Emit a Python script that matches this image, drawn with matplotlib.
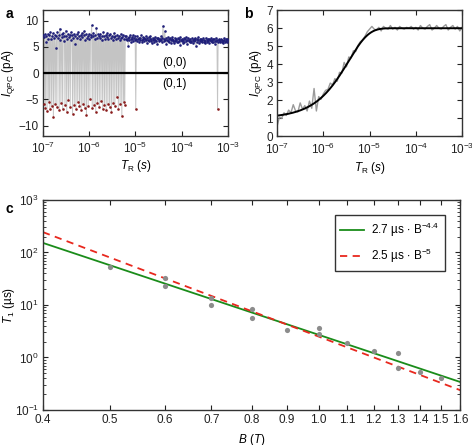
import numpy as np
import matplotlib
matplotlib.use("Agg")
import matplotlib.pyplot as plt
from matplotlib.ticker import FixedLocator, NullLocator, LogLocator, NullFormatter

plt.rcParams['font.family'] = ['Liberation Sans', 'DejaVu Sans']
plt.rcParams['mathtext.fontset'] = 'custom'
plt.rcParams['mathtext.rm'] = 'Liberation Sans'
plt.rcParams['mathtext.it'] = 'Liberation Sans:italic'
plt.rcParams['font.size'] = 8.5

# ---- panel a: single-shot readout vs T_R ----
shot_logT = np.linspace(-7, -3, 320)
shot_current = [
    7.3, -5.8, 6.9, 7.4, -6.6, 5.9, 7.0, -7.2, 7.5, 6.6, -5.4, 7.2, -6.9, 7.8, 6.5, -6.2,
    7.1, 7.6, -8.3, 6.8, 7.3, -5.9, 4.8, 7.0, -6.4, 7.9, 6.7, 7.2, -7.0, 8.5, 6.4, -5.6,
    7.4, 6.9, -6.8, 7.7, 6.2, 7.1, -6.1, 8.1, 7.0, -7.4, 6.6, 7.5, -5.2, 6.9, 7.3, -6.5,
    7.8, 6.4, 7.2, -7.7, 6.8, 7.5, -6.0, 7.1, 5.6, -6.9, 7.4, 6.7, -5.5, 7.9, 7.0, -6.3,
    6.5, 7.3, -7.1, 7.6, 6.9, -5.8, 7.2, 8.0, -6.6, 6.3, 7.4, -7.9, 6.8, 7.1, -6.2, 7.5,
    6.6, -5.0, 7.3, 6.9, 9.1, -6.7, 7.0, 7.7, -6.0, 6.5, 7.2, -7.3, 8.7, 6.8, -5.7, 7.4,
    7.0, -6.4, 6.7, 7.5, -5.3, 7.1, 6.4, -6.8, 7.8, 7.0, -6.1, 6.6, 7.3, -7.0, 6.9, 7.6,
    -5.9, 6.5, 7.2, -6.5, 7.4, 6.8, -7.4, 7.1, 6.3, -5.6, 7.6, 6.9, -6.3, 7.0, 6.6, -4.6,
    7.3, 6.8, -6.8, 7.1, 6.4, -5.9, 7.5, 6.7, -8.2, 6.9, 7.2, -5.5, 6.6, -6.1, 7.0, 6.5,
    7.1, 6.3, 6.8, 5.1, 6.9, 6.4, 7.2, 6.6, 6.0, 6.9, 6.5, 7.3, 6.2, 6.8, 6.4, 7.0,
    -6.9, 6.6, 6.1, 7.0, 6.5, 6.8, 5.9, 6.7, 6.3, 7.2, 6.4, 6.0, 6.9, 6.5, 6.2, 6.8,
    6.6, 7.1, 6.3, 5.8, 6.7, 6.4, 6.9, 6.1, 6.6, 7.0, 6.2, 6.5, 5.7, 6.8, 6.3, 6.6,
    6.0, 6.9, 6.4, 6.2, 6.7, 5.5, 6.5, 6.8, 6.1, 6.6, 6.3, 7.0, 6.4, 5.9, 6.7, 9.0,
    6.2, 6.5, 8.0, 6.3, 6.8, 5.6, 6.4, 6.9, 6.1, 6.6, 6.0, 6.7, 6.3, 5.8, 6.5, 6.9,
    6.2, 6.4, 5.7, 6.8, 6.1, 6.6, 6.3, 5.9, 6.7, 6.0, 6.5, 6.2, 6.9, 5.4, 6.4, 6.1,
    6.6, 6.3, 5.8, 6.7, 6.0, 6.5, 6.9, 6.2, 5.6, 6.4, 6.8, 6.1, 6.3, 5.9, 6.6, 6.2,
    6.0, 6.7, 6.4, 5.7, 6.5, 6.1, 6.8, 6.3, 5.2, 6.6, 6.0, 6.4, 6.9, 5.8, 6.2, 6.5,
    6.1, 6.6, 6.3, 5.9, 6.7, 6.0, 6.4, 6.2, 5.7, 6.8, 6.3, 6.0, 6.5, 6.1, 6.6, 5.8,
    6.4, 6.2, 6.7, 5.9, 6.3, 6.0, 6.5, 6.6, 5.6, 6.2, 6.8, 6.1, 6.4, -6.9, 6.0, 6.3,
    6.5, 5.9, 6.2, 6.6, 6.0, 6.4, 6.1, 5.8, 6.7, 6.3, 6.0, 6.5, 6.2, 5.9, 6.6, 6.3,
]

# ---- panel b: averaged current vs T_R ----
avg_logT = np.linspace(-7, -3, 81)
avg_current = [
    0.55, 1.05, 1.00, 1.30, 1.15, 1.45, 1.30, 1.75, 1.40, 1.35, 1.85, 1.50, 1.70, 1.40,
    1.95, 1.55, 2.65, 1.40, 2.20, 2.05, 2.35, 2.55, 2.60, 2.95, 2.85, 3.20, 3.05, 3.55,
    3.50, 4.10, 3.85, 4.40, 4.35, 4.75, 4.70, 5.05, 5.25, 5.35, 5.55, 5.80, 5.95, 6.10,
    5.95, 5.90, 6.05, 5.85, 6.10, 6.00, 5.95, 6.15, 5.95, 6.05, 5.90, 6.10, 6.00, 5.95,
    6.05, 6.00, 6.10, 5.95, 6.05, 5.90, 6.15, 6.00, 5.95, 6.10, 6.20, 5.90, 6.00, 6.15,
    6.00, 5.95, 6.10, 6.20, 5.90, 6.05, 6.15, 5.95, 6.10, 5.85, 6.05,
]
fit_I0 = 1.0      # pA
fit_Isat = 6.0    # pA
fit_T1 = 3.5e-6   # s

# ---- panel c: T1 vs B ----
B_field = [0.5, 0.6, 0.6, 0.7, 0.7, 0.8, 0.8, 0.9, 1.0, 1.0, 1.1, 1.2, 1.3, 1.3, 1.4, 1.5]
T1_us = [52, 33, 23.5, 13.4, 10, 8.4, 5.6, 3.4, 3.6, 2.85, 1.86, 1.3, 1.23, 0.63, 0.52, 0.40]
fit_green = (2.7, -4.4)
fit_red = (2.5, -5.0)


def style_axes(ax):
    ax.tick_params(which='both', direction='in', top=True, right=True, colors='#222222',
                   labelcolor='#222222', pad=3)
    ax.tick_params(which='major', length=3.5, width=0.8)
    ax.tick_params(which='minor', length=2, width=0.6)
    for s in ax.spines.values():
        s.set_color('#333333')
        s.set_linewidth(1.0)


fig = plt.figure(figsize=(4.72, 4.45), dpi=100)

# panel a
ax_a = fig.add_axes([0.091, 0.694, 0.392, 0.283])
tshot = 10.0 ** shot_logT
cur = np.array(shot_current)
ax_a.plot(tshot, cur, color='#c4c4c4', lw=0.7, zorder=1)
pos = cur > 0
ax_a.scatter(tshot[pos], cur[pos], s=3.5, color='#1f1f7a', linewidths=0, zorder=3)
ax_a.scatter(tshot[~pos], cur[~pos], s=3.5, color='#8a1c1c', linewidths=0, zorder=3)
ax_a.axhline(0, color='black', lw=1.6, zorder=4)
ax_a.text(10 ** -4.15, 1.9, '(0,0)', ha='center', va='center', fontsize=8.5)
ax_a.text(10 ** -4.15, -2.1, '(0,1)', ha='center', va='center', fontsize=8.5)
ax_a.set_xscale('log')
ax_a.set_xlim(1e-7, 1e-3)
ax_a.set_ylim(-12, 12)
ax_a.set_yticks([-10, -5, 0, 5, 10])
ax_a.xaxis.set_major_locator(FixedLocator([1e-7, 1e-6, 1e-5, 1e-4, 1e-3]))
ax_a.xaxis.set_minor_locator(NullLocator())
ax_a.set_xlabel(r'$T_{\rm R}$ $(s)$', labelpad=2)
ax_a.set_ylabel(r'$I_{\rm QPC}$ (pA)', labelpad=1)
style_axes(ax_a)

# panel b
ax_b = fig.add_axes([0.587, 0.694, 0.392, 0.283])
tavg = 10.0 ** avg_logT
ax_b.plot(tavg, avg_current, color='#9a9a9a', lw=1.0)
tfit = np.logspace(-7, -3, 400)
ifit = fit_Isat - (fit_Isat - fit_I0) * np.exp(-tfit / fit_T1)
ax_b.plot(tfit, ifit, color='black', lw=1.4)
ax_b.set_xscale('log')
ax_b.set_xlim(1e-7, 1e-3)
ax_b.set_ylim(0, 7)
ax_b.set_yticks(range(8))
ax_b.xaxis.set_major_locator(FixedLocator([1e-7, 1e-6, 1e-5, 1e-4, 1e-3]))
ax_b.xaxis.set_minor_locator(NullLocator())
ax_b.set_xlabel(r'$T_{\rm R}$ $(s)$', labelpad=2)
ax_b.set_ylabel(r'$I_{\rm QPC}$ (pA)', labelpad=1)
style_axes(ax_b)
ax_b.tick_params(axis='x', pad=4)

# panel c
ax_c = fig.add_axes([0.091, 0.0787, 0.884, 0.4719])
ax_c.scatter(B_field, T1_us, s=14, color='#8c8c8c', linewidths=0, zorder=3)
bb = np.linspace(0.4, 1.6, 200)
ax_c.plot(bb, fit_green[0] * bb ** fit_green[1], color='#1a8c1a', lw=1.3,
          label=r'2.7 µs $\cdot$ B$^{-4.4}$', zorder=2)
ax_c.plot(bb, fit_red[0] * bb ** fit_red[1], color='#e8281e', lw=1.3, ls=(0, (4, 3)),
          label=r'2.5 µs $\cdot$ B$^{-5}$', zorder=2)
ax_c.set_xscale('log')
ax_c.set_yscale('log')
ax_c.set_xlim(0.4, 1.6)
ax_c.set_ylim(0.1, 1000)
bticks = [0.4, 0.5, 0.6, 0.7, 0.8, 0.9, 1.0, 1.1, 1.2, 1.3, 1.4, 1.5, 1.6]
ax_c.xaxis.set_major_locator(FixedLocator(bticks))
ax_c.xaxis.set_minor_locator(NullLocator())
ax_c.set_xticklabels([f'{b:.1f}' for b in bticks])
ax_c.yaxis.set_major_locator(LogLocator(base=10, numticks=10))
ax_c.yaxis.set_minor_locator(LogLocator(base=10, subs=np.arange(2, 10), numticks=10))
ax_c.yaxis.set_minor_formatter(NullFormatter())
ax_c.set_xlabel(r'$B$ $(T)$', labelpad=4)
ax_c.set_ylabel(r'$T_1$ (µs)', labelpad=-2)
leg = ax_c.legend(loc='upper right', bbox_to_anchor=(0.978, 0.955), fancybox=False,
                  edgecolor='#333333', framealpha=1, fontsize=8.5, handlelength=2.0,
                  borderpad=0.5, labelspacing=0.6, handletextpad=0.6)
leg.get_frame().set_linewidth(1.0)
style_axes(ax_c)

fig.text(0.012, 0.985, 'a', fontsize=10, fontweight='bold', va='top')
fig.text(0.517, 0.985, 'b', fontsize=10, fontweight='bold', va='top')
fig.text(0.012, 0.545, 'c', fontsize=10, fontweight='bold', va='top')

fig.savefig('out.png', dpi=100)
